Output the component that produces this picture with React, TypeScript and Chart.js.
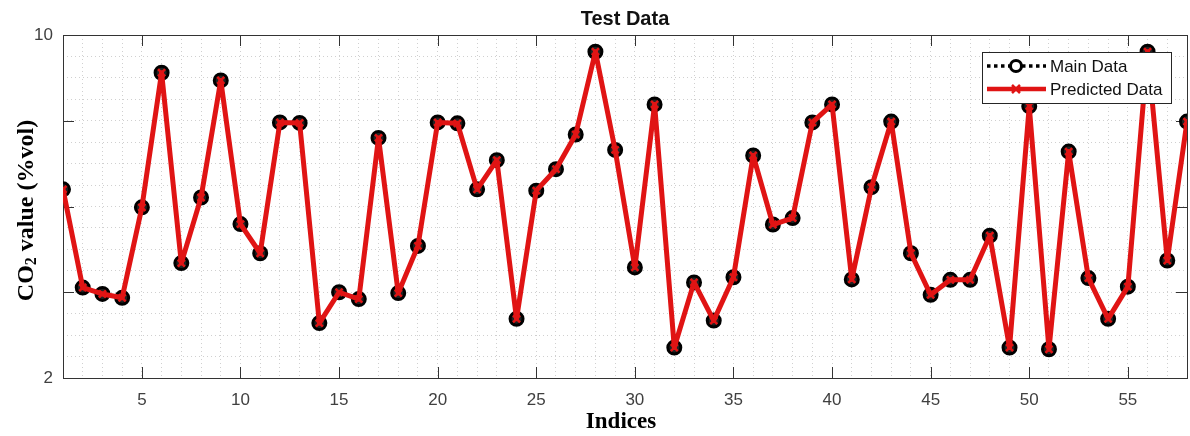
import React, { useEffect, useRef } from "react";
import { Chart, registerables } from "chart.js";

Chart.register(...registerables);

const indices = [
  1, 2, 3, 4, 5, 6, 7, 8, 9, 10, 11, 12, 13, 14, 15, 16, 17, 18, 19, 20,
  21, 22, 23, 24, 25, 26, 27, 28, 29, 30, 31, 32, 33, 34, 35, 36, 37, 38, 39, 40,
  41, 42, 43, 44, 45, 46, 47, 48, 49, 50, 51, 52, 53, 54, 55, 56, 57, 58,
];

const mainData = [
  6.4, 4.11, 3.96, 3.87, 5.98, 9.12, 4.68, 6.21, 8.94, 5.59,
  4.91, 7.96, 7.95, 3.28, 4.0, 3.84, 7.6, 3.98, 5.08, 7.96,
  7.94, 6.4, 7.08, 3.38, 6.37, 6.87, 7.68, 9.61, 7.32, 4.58,
  8.38, 2.71, 4.23, 3.34, 4.35, 7.19, 5.58, 5.73, 7.96, 8.38,
  4.3, 6.45, 7.98, 4.91, 3.94, 4.29, 4.29, 5.32, 2.71, 8.34,
  2.67, 7.28, 4.33, 3.38, 4.13, 9.61, 4.74, 7.98,
];

const predictedData = [
  6.4, 4.11, 3.96, 3.87, 5.98, 9.12, 4.68, 6.21, 8.94, 5.59,
  4.91, 7.96, 7.95, 3.28, 4.0, 3.84, 7.6, 3.98, 5.08, 7.96,
  7.94, 6.4, 7.08, 3.38, 6.37, 6.87, 7.68, 9.61, 7.32, 4.58,
  8.38, 2.71, 4.23, 3.34, 4.35, 7.19, 5.58, 5.73, 7.96, 8.38,
  4.3, 6.45, 7.98, 4.91, 3.94, 4.29, 4.29, 5.32, 2.71, 8.34,
  2.67, 7.28, 4.33, 3.38, 4.13, 9.61, 4.74, 7.98,
];

const xMajorTicks = [5, 10, 15, 20, 25, 30, 35, 40, 45, 50, 55];
const yMajorTicks = [2, 4, 6, 8, 10];
const yTickLabels = [2, 10];

const seriesNames = ["Main Data", "Predicted Data"];
const chartTitle = "Test Data";
const xTitle = "Indices";

const RED = "#e01414";
const AXIS = "#333333";

const decorPlugin = {
  id: "decor",
  beforeDatasetsDraw(chart: any) {
    const { ctx, chartArea } = chart;
    const { left, right, top, bottom } = chartArea;
    const xs = chart.scales.x;
    const ys = chart.scales.y;
    ctx.save();
    ctx.strokeStyle = AXIS;
    ctx.lineWidth = 1;
    ctx.setLineDash([]);
    ctx.beginPath();
    const tl = 11;
    xMajorTicks.forEach((t) => {
      const px = Math.round(xs.getPixelForValue(t)) + 0.5;
      ctx.moveTo(px, bottom);
      ctx.lineTo(px, bottom - tl);
      ctx.moveTo(px, top);
      ctx.lineTo(px, top + tl);
    });
    yMajorTicks.forEach((t) => {
      const py = Math.round(ys.getPixelForValue(t)) + 0.5;
      ctx.moveTo(left, py);
      ctx.lineTo(left + tl, py);
      ctx.moveTo(right, py);
      ctx.lineTo(right - tl, py);
    });
    ctx.stroke();
    ctx.strokeRect(Math.round(left) + 0.5, Math.round(top) + 0.5, Math.round(right - left), Math.round(bottom - top));
    ctx.restore();
  },
  afterDraw(chart: any) {
    const { ctx, chartArea } = chart;
    const { left, right, top, bottom } = chartArea;
    ctx.save();
    // Title
    ctx.fillStyle = "#111111";
    ctx.font = "bold 20px 'Liberation Sans', Arial, sans-serif";
    ctx.textAlign = "center";
    ctx.textBaseline = "alphabetic";
    ctx.fillText(chartTitle, (left + right) / 2, 25);

    // X title
    ctx.fillStyle = "#000000";
    ctx.font = "bold 23px 'Liberation Serif', 'Times New Roman', serif";
    ctx.textAlign = "center";
    ctx.textBaseline = "middle";
    ctx.fillText(xTitle, 621, 422);

    // Y title with subscript
    ctx.save();
    ctx.translate(27, (top + bottom) / 2 + 4);
    ctx.rotate(-Math.PI / 2);
    const big = "bold 24px 'Liberation Serif', 'Times New Roman', serif";
    const small = "bold 16px 'Liberation Serif', 'Times New Roman', serif";
    ctx.textBaseline = "middle";
    ctx.textAlign = "left";
    ctx.font = big;
    const w1 = ctx.measureText("CO").width;
    const w3 = ctx.measureText(" value (%vol)").width;
    ctx.font = small;
    const w2 = ctx.measureText("2").width;
    const total = w1 + w2 + w3;
    let x0 = -total / 2;
    ctx.font = big;
    ctx.fillText("CO", x0, 0);
    x0 += w1;
    ctx.font = small;
    ctx.fillText("2", x0, 5);
    x0 += w2;
    ctx.font = big;
    ctx.fillText(" value (%vol)", x0, 0);
    ctx.restore();

    // Legend
    const bx = 982, by = 52, bw = 189, bh = 51;
    ctx.fillStyle = "#ffffff";
    ctx.fillRect(bx, by, bw, bh);
    ctx.strokeStyle = "#262626";
    ctx.lineWidth = 1;
    ctx.strokeRect(bx + 0.5, by + 0.5, bw, bh);
    const r1 = 66, r2 = 89;
    const lx0 = 987, lx1 = 1046, mx = 1016;
    // main data sample
    ctx.strokeStyle = "#000000";
    ctx.lineWidth = 3.5;
    ctx.setLineDash([3.5, 3.5]);
    ctx.beginPath();
    ctx.moveTo(lx0, r1);
    ctx.lineTo(lx1, r1);
    ctx.stroke();
    ctx.setLineDash([]);
    ctx.lineWidth = 3;
    ctx.fillStyle = "#ffffff";
    ctx.beginPath();
    ctx.arc(mx, r1, 5.5, 0, Math.PI * 2);
    ctx.fill();
    ctx.stroke();
    // predicted sample
    ctx.strokeStyle = RED;
    ctx.lineWidth = 4.5;
    ctx.beginPath();
    ctx.moveTo(lx0, r2);
    ctx.lineTo(lx1, r2);
    ctx.stroke();
    ctx.lineWidth = 2.5;
    ctx.beginPath();
    ctx.moveTo(mx - 4, r2 - 4);
    ctx.lineTo(mx + 4, r2 + 4);
    ctx.moveTo(mx + 4, r2 - 4);
    ctx.lineTo(mx - 4, r2 + 4);
    ctx.stroke();
    ctx.fillStyle = "#111111";
    ctx.font = "17px 'Liberation Sans', Arial, sans-serif";
    ctx.textAlign = "left";
    ctx.textBaseline = "middle";
    ctx.fillText(seriesNames[0], 1050, r1 + 1);
    ctx.fillText(seriesNames[1], 1050, r2 + 1);
    ctx.restore();
  },
};

export default function App() {
  const canvasRef = useRef<HTMLCanvasElement | null>(null);

  useEffect(() => {
    document.body.style.margin = "0";
    const canvas = canvasRef.current;
    if (!canvas) return;
    const tickFont = { family: "'Liberation Sans', Arial, sans-serif", size: 17 };
    const chart = new Chart(canvas, {
      type: "line",
      data: {
        datasets: [
          {
            label: seriesNames[0],
            data: mainData.map((v, i) => ({ x: indices[i], y: v })),
            borderColor: "#000000",
            borderWidth: 3,
            borderDash: [3, 4],
            borderJoinStyle: "round",
            pointStyle: "circle",
            pointRadius: 6.5,
            pointBorderWidth: 3,
            pointBorderColor: "#000000",
            pointBackgroundColor: "#222222",
            fill: false,
            tension: 0,
            order: 2,
          },
          {
            label: seriesNames[1],
            data: predictedData.map((v, i) => ({ x: indices[i], y: v })),
            borderColor: RED,
            borderWidth: 5,
            borderJoinStyle: "round",
            borderCapStyle: "round",
            pointStyle: "crossRot",
            pointRadius: 5,
            pointBorderWidth: 2.5,
            pointBorderColor: RED,
            pointBackgroundColor: RED,
            fill: false,
            tension: 0,
            order: 1,
          },
        ],
      },
      options: {
        animation: false,
        responsive: false,
        maintainAspectRatio: false,
        devicePixelRatio: 1,
        layout: { autoPadding: false, padding: { top: 35, right: 3, left: 0, bottom: 0 } },
        plugins: {
          legend: { display: false },
          title: { display: false },
          tooltip: { enabled: false },
        },
        scales: {
          x: {
            type: "linear",
            min: 1,
            max: 58,
            afterFit: (s: any) => {
              s.height = 58;
              s.paddingLeft = 0;
              s.paddingRight = 0;
            },
            grid: { color: "#d0d0d0", lineWidth: 1, drawTicks: false },
            border: { display: false, dash: [1, 3] },
            ticks: {
              stepSize: 1,
              autoSkip: false,
              maxRotation: 0,
              padding: 12,
              color: "#404040",
              font: tickFont,
              callback: (v: any) => (xMajorTicks.includes(Number(v)) ? String(v) : ""),
            },
          },
          y: {
            type: "linear",
            min: 2,
            max: 10,
            afterFit: (s: any) => {
              s.width = 63;
              s.paddingTop = 0;
              s.paddingBottom = 0;
            },
            grid: { color: "#d0d0d0", lineWidth: 1, drawTicks: false },
            border: { display: false, dash: [1, 3] },
            ticks: {
              stepSize: 0.5,
              autoSkip: false,
              padding: 10,
              color: "#404040",
              font: tickFont,
              callback: (v: any) => (yTickLabels.includes(Number(v)) ? String(v) : ""),
            },
          },
        },
      },
      plugins: [decorPlugin],
    } as any);
    return () => chart.destroy();
  }, []);

  return (
    <div style={{ width: 1190, height: 436, background: "#ffffff" }}>
      <canvas ref={canvasRef} width={1190} height={436} style={{ display: "block" }} />
    </div>
  );
}
